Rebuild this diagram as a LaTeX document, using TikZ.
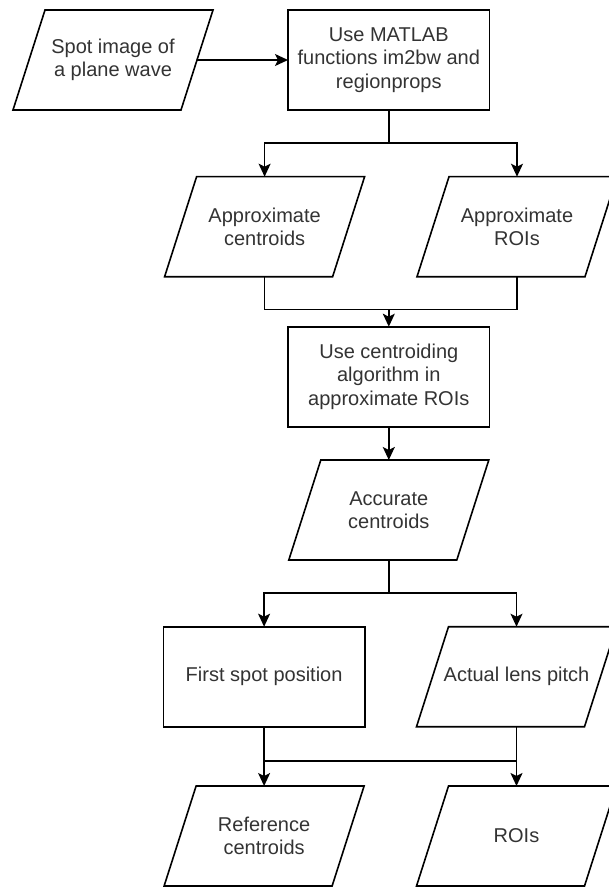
\documentclass[tikz,border=0pt]{standalone}
\usepackage{fontspec}
\setmainfont{Liberation Sans}
\usetikzlibrary{arrows.meta,positioning}

\tikzset{
  procbox/.style={draw,rectangle,line width=1.6pt,outer sep=0pt,
    minimum width=201.6pt,minimum height=100pt,align=center,
    text=black!80,font=\fontsize{20pt}{23.5pt}\selectfont},
  iobox/.style={rectangle,outer sep=0pt,
    minimum width=168pt,minimum height=100pt,align=center,
    text=black!80,font=\fontsize{20pt}{23.5pt}\selectfont,
    append after command={\pgfextra{\draw[line width=1.6pt,line join=miter]
      ([xshift=-16pt]\tikzlastnode.south west) --
      ([xshift=-16pt]\tikzlastnode.south east) --
      ([xshift=16pt]\tikzlastnode.north east) --
      ([xshift=16pt]\tikzlastnode.north west) -- cycle;}}},
  flow/.style={line width=1.6pt},
  flowarr/.style={line width=1.6pt,-{Stealth[length=13pt,width=12pt,inset=3pt]}}
}

\begin{document}
\begin{tikzpicture}[x=1pt,y=1pt]
      \useasboundingbox (0,0) rectangle (608,-890);
      \node [iobox] (spot) at (113,-60) {Spot image of\\a plane wave};
      \node [procbox,right=91pt of spot] (matlab)
      {Use MATLAB\\functions im2bw and\\regionprops};
      \draw[flowarr] (spot) to (matlab);
      \node [iobox,below=66.7pt of matlab,xshift=-124.2pt] (approxc)
      {Approximate\\centroids};
      \node [iobox,below=66.7pt of matlab,xshift=128.2pt] (approxr)
      {Approximate\\ROIs};
      \coordinate [below=33.3pt of matlab] (split1);
      \draw[flow] (matlab) to (split1);
      \draw[flowarr] (split1) -| (approxc);
      \draw[flowarr] (split1) -| (approxr);
      \path (approxc.south -| matlab.south) ++(0,-32.7) coordinate (join1);
      \node [procbox,below=17.3pt of join1] (centroid)
      {Use centroiding\\algorithm in\\approximate ROIs};
      \draw[flow] (approxc) |- (join1) -| (approxr);
      \draw[flowarr] (join1) to (centroid);
      \node [iobox,below=33.3pt of centroid] (accurate)
      {Accurate\\centroids};
      \draw[flowarr] (centroid) to (accurate);
      \node [procbox,below=66.7pt of accurate,xshift=-124.7pt] (first)
      {First spot position};
      \node [iobox,below=66.7pt of accurate,xshift=127.7pt] (pitch)
      {Actual lens pitch};
      \coordinate [below=32.7pt of accurate] (split2);
      \draw[flow] (accurate) to (split2);
      \draw[flowarr] (split2) -| (first);
      \draw[flowarr] (split2) -| (pitch);
      \node [iobox,below=59.3pt of first] (refc)
      {Reference\\centroids};
      \node [iobox,below=59.3pt of pitch] (rois) {ROIs};
      \coordinate [below=34.3pt of first] (join2);
      \draw[flowarr] (first) to (refc);
      \draw[flowarr] (pitch) to (rois);
      \draw[flow] (join2) to (join2 -| pitch);
\end{tikzpicture}
\end{document}
